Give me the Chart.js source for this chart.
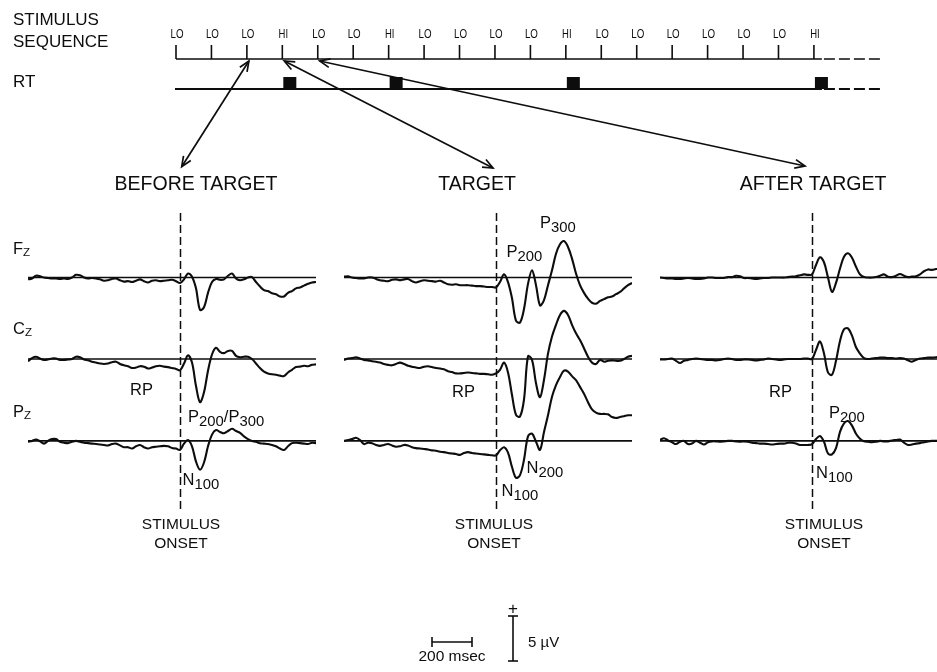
<!DOCTYPE html>
<html>
<head>
<meta charset="utf-8">
<script src="https://cdn.jsdelivr.net/npm/chart.js@4.4.0/dist/chart.umd.min.js"></script>
<style>
html, body { margin: 0; padding: 0; background: #fff; overflow: hidden; width: 937px; height: 672px; }
#wrap { position: relative; width: 937px; height: 672px; font-family: "Liberation Sans", Arial, Helvetica, sans-serif; color: #0d0d0d; }
canvas { position: absolute; }
.t { position: absolute; white-space: nowrap; line-height: 1; }
.s { font-size: 0.9em; vertical-align: -0.28em; }
.z { font-size: 0.7em; vertical-align: -0.13em; }
</style>
</head>
<body>
<div id="wrap">
  <canvas id="topChart" width="937" height="200" style="left:0;top:0"></canvas>
  <canvas id="beforeChart" width="288" height="472" style="left:28px;top:200px"></canvas>
  <canvas id="targetChart" width="288" height="472" style="left:344px;top:200px"></canvas>
  <canvas id="afterChart" width="288" height="472" style="left:660px;top:200px"></canvas>
</div>
<script>
// --- data ---
const stimuli = ['LO','LO','LO','HI','LO','LO','HI','LO','LO','LO','LO','HI','LO','LO','LO','LO','LO','LO','HI'];
const rtMarks = [3, 6, 11, 18];          // responses (stimulus index)
const arrowFrom = [2, 3, 4];             // before target, target, after target

// time in msec relative to stimulus onset
const times = [-760,-740,-720,-700,-680,-660,-640,-620,-600,-580,
  -560,-540,-520,-500,-480,-460,-440,-420,-400,-380,
  -360,-340,-320,-300,-280,-260,-240,-220,-200,-180,
  -160,-140,-120,-100,-80,-60,-40,-20,0,20,
  40,60,80,100,120,140,160,180,200,220,
  240,260,280,300,320,340,360,380,400,420,
  440,460,480,500,520,540,560,580,600,620,
  640,660,680];

// amplitude in microvolts (positive up)
const beforeFz = [-0.2,-0.1,0.2,0.15,0,-0.05,-0.1,-0.1,-0.15,-0.1,
  -0.15,0,0.3,0.25,0,-0.1,-0.05,-0.1,-0.2,-0.35,
  -0.3,-0.15,-0.1,-0.3,-0.45,-0.4,-0.5,-0.35,-0.2,-0.4,
  -0.55,-0.35,-0.3,-0.4,-0.35,-0.3,-0.25,-0.4,-0.6,-0.2,
  0.45,0.1,-1.2,-3.6,-3.3,-1.7,-0.5,-0.15,-0.25,-0.2,
  0.2,0.45,-0.1,-0.3,-0.2,0,0.05,-0.5,-1.0,-1.4,
  -1.5,-1.75,-1.85,-2.1,-2.1,-1.7,-1.5,-1.2,-1.1,-0.9,
  -0.7,-0.55,-0.5];
const beforeCz = [-0.25,0.1,0.25,0.05,-0.1,-0.05,0.05,0.05,-0.1,-0.1,
  -0.05,0,0.25,0.2,-0.05,-0.15,-0.3,-0.4,-0.5,-0.55,
  -0.5,-0.35,-0.3,-0.55,-0.7,-0.8,-1.0,-0.95,-0.8,-0.85,
  -1.05,-0.95,-0.8,-0.75,-0.85,-0.9,-1.0,-1.1,-1.25,-0.5,
  0.4,-0.4,-3.0,-4.8,-3.7,-1.3,0.5,1.25,0.8,0.65,
  0.9,0.9,0.35,0.2,0.25,0.25,0,-0.5,-1.0,-1.4,
  -1.6,-1.7,-1.75,-1.85,-1.9,-1.5,-1.2,-0.9,-0.85,-0.75,
  -0.8,-0.65,-0.6];
const beforePz = [-0.1,0,0.15,-0.05,-0.3,0,0.2,0.2,-0.1,-0.2,
  -0.25,-0.1,0,-0.1,-0.2,-0.25,-0.3,-0.35,-0.4,-0.45,
  -0.5,-0.35,-0.3,-0.5,-0.7,-0.7,-0.85,-0.6,-0.45,-0.7,
  -0.85,-0.7,-0.65,-0.6,-0.55,-0.6,-0.8,-0.85,-1.0,-0.3,
  0.1,-0.6,-2.3,-3.2,-2.4,-0.6,0.7,1.2,1.0,0.85,
  1.1,1.35,1.1,0.9,0.5,0.2,0,-0.1,-0.25,-0.3,
  -0.35,-0.45,-0.6,-0.85,-1.0,-0.6,-0.25,-0.2,-0.25,-0.3,
  -0.35,-0.2,-0.25];

const targetFz = [0.1,0.15,0,-0.05,-0.1,-0.1,0,0,-0.15,-0.3,
  -0.35,-0.4,-0.25,-0.2,-0.3,-0.2,-0.15,-0.4,-0.55,-0.4,
  -0.3,-0.35,-0.4,-0.45,-0.35,-0.55,-0.75,-0.8,-0.75,-0.85,
  -0.85,-0.85,-0.9,-0.95,-0.95,-1.0,-1.05,-1.05,-1.1,-0.5,
  0.35,-0.5,-2.3,-4.8,-5.0,-3.5,-0.7,0.8,-0.85,-3.1,
  -2.5,-0.85,0.8,2.65,3.7,4.05,3.4,2.1,0.45,-0.85,
  -1.7,-2.35,-2.8,-2.9,-2.6,-2.4,-2.2,-2.1,-1.85,-1.6,
  -1.2,-0.85,-0.6];
const targetCz = [-0.1,0.05,0.1,0.2,0.05,-0.1,-0.15,-0.25,-0.3,-0.4,
  -0.55,-0.65,-0.7,-0.55,-0.4,-0.55,-0.75,-0.85,-0.95,-1.0,
  -0.85,-0.8,-0.9,-1.0,-1.05,-1.15,-1.35,-1.45,-1.6,-1.6,
  -1.55,-1.5,-1.55,-1.6,-1.65,-1.65,-1.7,-1.75,-1.6,-1.2,
  -0.4,-1.5,-4.0,-6.2,-6.4,-4.5,0.3,-0.1,-2.7,-4.25,
  -2.3,0.6,2.5,3.8,4.9,5.35,4.9,3.8,2.85,2.1,
  1.2,0.25,-0.4,-0.55,-0.1,-0.3,-0.2,-0.15,-0.2,-0.2,
  0,0.25,0.35];
const targetPz = [0,0.1,0.2,0.35,0.1,-0.35,-0.2,-0.25,-0.45,-0.55,
  -0.45,-0.35,-0.5,-0.65,-0.6,-0.45,-0.5,-0.7,-0.8,-0.85,
  -0.9,-0.95,-1.05,-1.1,-1.2,-1.25,-1.35,-1.4,-1.45,-1.55,
  -1.35,-1.25,-1.35,-1.4,-1.45,-1.5,-1.55,-1.6,-1.6,-1.05,
  -0.7,-1.3,-2.9,-4.1,-3.8,-2.1,0.5,0.8,-0.1,-1.0,
  1.0,2.85,4.9,6.2,7.1,7.8,7.7,7.2,6.75,6.0,
  5.25,4.3,3.5,3.15,3.0,3.0,2.95,2.65,2.55,2.65,
  2.75,2.85,2.85];

const afterFz = [0,-0.05,-0.1,-0.1,-0.15,-0.15,-0.1,-0.05,-0.1,-0.15,
  -0.15,-0.1,0,0,-0.05,-0.05,-0.05,0.05,0.05,0.2,
  0.15,-0.05,-0.05,-0.1,-0.15,-0.1,-0.05,-0.05,0,0,
  0,0,0.05,0.1,0.15,0.25,0.35,0.3,0.35,1.4,
  2.25,1.7,0,-1.6,-0.6,1.0,2.3,2.7,2.2,1.2,
  0.35,0.05,0,0,0.05,0.2,0.35,0.1,0.05,0.2,
  0.4,0.2,0.05,0.1,0.15,0.35,0.7,0.9,0.85,0.95,
  0.95,1.0,1.0];
const afterCz = [-0.05,-0.05,0,0.05,-0.2,-0.45,-0.2,-0.1,0,0.05,
  0,-0.05,-0.1,-0.1,-0.15,-0.1,0,0.05,0,-0.1,
  -0.1,-0.05,-0.05,-0.1,-0.15,-0.1,-0.05,0.05,0,-0.05,
  -0.1,-0.05,0,0,0,0,0.05,0.05,0,1.0,
  1.95,0.6,-1.5,-1.75,-0.2,2.0,3.3,3.4,2.6,1.3,
  0.6,0.1,0,0.05,0.1,0.15,0.15,0.1,0.1,0.05,
  0.1,0.05,-0.15,-0.3,-0.1,0.05,0.1,0.15,0.15,0.2,
  0.2,0.2,0.2];
const afterPz = [0.1,0.3,0.05,-0.15,-0.35,-0.1,0,-0.35,-0.3,0,
  -0.2,-0.4,-0.15,-0.05,-0.05,-0.1,-0.05,0,0,-0.05,
  -0.1,-0.05,-0.1,-0.2,-0.25,-0.3,-0.3,-0.35,-0.4,-0.35,
  -0.3,-0.3,-0.2,-0.2,-0.3,-0.45,-0.45,-0.45,-0.35,0.2,
  0.55,-0.1,-1.4,-1.5,-0.8,1.0,1.95,2.2,1.7,0.8,
  0.25,-0.05,-0.1,-0.15,-0.1,0,-0.05,-0.05,0.05,0.1,
  0.15,-0.2,-0.45,-0.4,-0.3,-0.25,-0.15,-0.05,0,0,
  0,0,0];

const scaleBarMs = 200;
const scaleBarUv = 5;

// --- layout ---
const ink = '#0d0d0d';
const PX_PER_UV = 9;
const rowOffsets = [9.05, 0, -9.1];          // Fz, Cz, Pz stacking (uV)
const CZ_BASE = 159;                         // Cz baseline inside panel canvas (px)
const PANEL_H = 472;
const STIM_X0 = 176, STIM_STEP = 35.44, SEQ_Y = 59, RT_Y = 89;

const wrap = document.getElementById('wrap');
function addText(html, x, base, size, center) {
  const d = document.createElement('div');
  d.className = 't';
  d.style.fontSize = size + 'px';
  d.style.top = (base - 0.847 * size) + 'px';
  d.style.left = x + 'px';
  if (center) d.style.transform = 'translateX(-50%)';
  d.innerHTML = html;
  wrap.appendChild(d);
}
function seg(ctx, x1, y1, x2, y2) {
  ctx.beginPath(); ctx.moveTo(x1, y1); ctx.lineTo(x2, y2); ctx.stroke();
}
function arrowHead(ctx, fx, fy, tx, ty) {
  const a = Math.atan2(ty - fy, tx - fx), L = 11, w = 0.4;
  ctx.beginPath();
  ctx.moveTo(tx - L * Math.cos(a - w), ty - L * Math.sin(a - w));
  ctx.lineTo(tx, ty);
  ctx.lineTo(tx - L * Math.cos(a + w), ty - L * Math.sin(a + w));
  ctx.stroke();
}

// --- stimulus sequence / RT / arrows ---
const arrowTo = [[181.7, 166.7], [493, 168], [805, 166]];
const sequencePlugin = {
  id: 'sequence',
  afterDraw(chart) {
    const ctx = chart.ctx, x = chart.scales.x;
    const first = x.getPixelForValue(0), last = x.getPixelForValue(stimuli.length - 1);
    ctx.save();
    ctx.strokeStyle = ink; ctx.fillStyle = ink;
    ctx.lineWidth = 1.6;
    seg(ctx, first, SEQ_Y, last + 8, SEQ_Y);
    ctx.setLineDash([11, 4]); seg(ctx, last + 10, SEQ_Y, last + 68, SEQ_Y); ctx.setLineDash([]);
    ctx.font = '13px "Liberation Sans", Arial, sans-serif';
    ctx.textAlign = 'center'; ctx.textBaseline = 'alphabetic';
    stimuli.forEach((s, i) => {
      const px = x.getPixelForValue(i);
      seg(ctx, px, SEQ_Y, px, SEQ_Y - 14);
      ctx.fillText(s, px + 1, 37.5, s === 'HI' ? 9.5 : 13);
    });
    ctx.lineWidth = 2.1;
    seg(ctx, first - 1, RT_Y, last + 8, RT_Y);
    ctx.setLineDash([11, 4]); seg(ctx, last + 10, RT_Y, last + 68, RT_Y); ctx.setLineDash([]);
    rtMarks.forEach(i => ctx.fillRect(x.getPixelForValue(i) + 1, RT_Y - 12, 13, 12));
    ctx.lineWidth = 1.7;
    arrowFrom.forEach((i, k) => {
      const fx = x.getPixelForValue(i) + 2, fy = SEQ_Y + 2;
      const [tx, ty] = arrowTo[k];
      seg(ctx, fx, fy, tx, ty);
      arrowHead(ctx, fx, fy, tx, ty);
      arrowHead(ctx, tx, ty, fx, fy);
    });
    ctx.restore();
  }
};

new Chart(document.getElementById('topChart'), {
  type: 'scatter',
  data: { datasets: [{ data: stimuli.map((s, i) => ({ x: i, y: 0.5 })), pointRadius: 0 }] },
  options: {
    responsive: false, animation: false, devicePixelRatio: 1,
    layout: { padding: 0 },
    plugins: { legend: { display: false }, tooltip: { enabled: false } },
    scales: {
      x: { type: 'linear', display: false, min: -STIM_X0 / STIM_STEP, max: (937 - STIM_X0) / STIM_STEP },
      y: { display: false, min: 0, max: 1 }
    }
  },
  plugins: [sequencePlugin]
});

// --- ERP panels ---
function onsetPlugin(withScaleBar) {
  return {
    id: 'onset',
    afterDatasetsDraw(chart) {
      const ctx = chart.ctx, x = chart.scales.x, y = chart.scales.y;
      const x0 = Math.round(x.getPixelForValue(0)) + 0.5;
      ctx.save();
      ctx.strokeStyle = ink; ctx.lineWidth = 1.5;
      ctx.setLineDash([8, 4]);
      seg(ctx, x0, 13, x0, 310);
      ctx.setLineDash([]);
      if (withScaleBar) {
        const w = x.getPixelForValue(scaleBarMs) - x.getPixelForValue(0);
        const h = y.getPixelForValue(0) - y.getPixelForValue(scaleBarUv);
        const hx = 88, hy = 442;            // horizontal bar
        ctx.lineWidth = 1.6;
        seg(ctx, hx, hy, hx + w, hy);
        seg(ctx, hx, hy - 5, hx, hy + 5);
        seg(ctx, hx + w, hy - 5, hx + w, hy + 5);
        const vx = 169, vy = 416;           // vertical bar
        seg(ctx, vx, vy, vx, vy + h);
        seg(ctx, vx - 5, vy, vx + 5, vy);
        seg(ctx, vx - 5, vy + h, vx + 5, vy + h);
      }
      ctx.restore();
    }
  };
}

function panel(id, traces, withScaleBar) {
  const datasets = [];
  traces.forEach((vals, r) => {
    datasets.push({
      data: [{ x: times[0], y: rowOffsets[r] }, { x: times[times.length - 1], y: rowOffsets[r] }],
      borderColor: ink, borderWidth: 1.6, pointRadius: 0, tension: 0
    });
    datasets.push({
      data: times.map((t, i) => ({ x: t, y: vals[i] + rowOffsets[r] })),
      borderColor: ink, borderWidth: 2.1, pointRadius: 0, tension: 0.35
    });
  });
  new Chart(document.getElementById(id), {
    type: 'line',
    data: { datasets },
    options: {
      responsive: false, animation: false, devicePixelRatio: 1,
      layout: { padding: 0 },
      plugins: { legend: { display: false }, tooltip: { enabled: false } },
      scales: {
        x: { type: 'linear', display: false, min: times[0], max: times[times.length - 1] },
        y: { display: false, min: -(PANEL_H - CZ_BASE) / PX_PER_UV, max: CZ_BASE / PX_PER_UV }
      }
    },
    plugins: [onsetPlugin(withScaleBar)]
  });
}

panel('beforeChart', [beforeFz, beforeCz, beforePz], false);
panel('targetChart', [targetFz, targetCz, targetPz], true);
panel('afterChart', [afterFz, afterCz, afterPz], false);

// --- text ---
addText('STIMULUS', 13, 25, 17);
addText('SEQUENCE', 13, 47.5, 17);
addText('RT', 13, 87, 17);
addText('BEFORE TARGET', 196, 191, 19.5, true);
addText('TARGET', 477, 191, 19.5, true);
addText('AFTER TARGET', 813, 191, 19.5, true);
addText('F<span class="z">Z</span>', 13, 253.5, 16.5);
addText('C<span class="z">Z</span>', 13, 333.5, 16.5);
addText('P<span class="z">Z</span>', 13, 416.5, 16.5);
addText('RP', 130, 394.5, 16.5);
addText('RP', 452, 396.5, 16.5);
addText('RP', 769, 396.5, 16.5);
addText('P<span class="s">200</span>/P<span class="s">300</span>', 188, 421.5, 16.5);
addText('N<span class="s">100</span>', 182.5, 485, 16.5);
addText('P<span class="s">300</span>', 540, 228, 16.5);
addText('P<span class="s">200</span>', 506.5, 257, 16.5);
addText('N<span class="s">200</span>', 526.5, 472.5, 16.5);
addText('N<span class="s">100</span>', 501.5, 496, 16.5);
addText('P<span class="s">200</span>', 829, 418, 16.5);
addText('N<span class="s">100</span>', 816, 478, 16.5);
[181, 494, 824].forEach(cx => {
  addText('STIMULUS', cx, 529, 15.5, true);
  addText('ONSET', cx, 548, 15.5, true);
});
addText('200 msec', 452, 661.5, 15.5, true);
addText('5 \u00b5V', 528, 647, 15);
addText('+', 513, 614, 17, true);
</script>
</body>
</html>
